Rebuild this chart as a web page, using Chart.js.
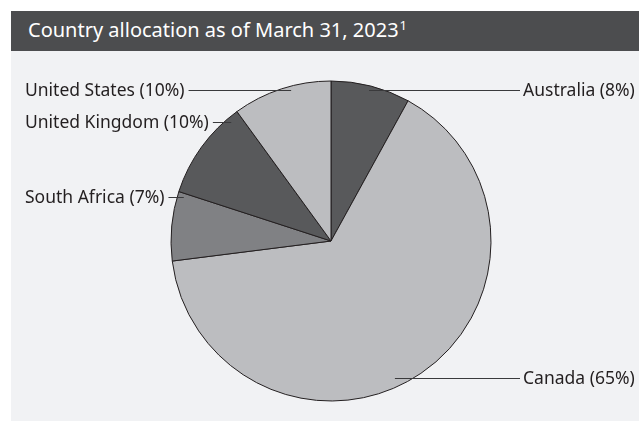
<!DOCTYPE html>
<html>
<head>
<meta charset="utf-8">
<script src="https://cdn.jsdelivr.net/npm/chart.js@4"></script>
<style>
  html, body { margin: 0; padding: 0; background: #fff; }
  body { width: 639px; height: 421px; position: relative; overflow: hidden; font-family: "Noto Sans", sans-serif; }
  #head { position: absolute; left: 11px; top: 11px; width: 628px; height: 40px; background: #4c4d4f; }
  #head span { position: absolute; left: 17px; top: 5px; color: #fff; font-size: 20px; line-height: 28px; white-space: nowrap; }
  #head sup { font-size: 13px; vertical-align: 7px; line-height: 0; margin-left: 1px; }
  #panel { position: absolute; left: 11px; top: 51px; width: 628px; height: 370px; background: #f1f2f4; }
  #wrap { position: absolute; left: 0; top: 0; width: 639px; height: 421px; }
</style>
</head>
<body>
<div id="head"><span>Country allocation as of March 31, 2023<sup>1</sup></span></div>
<div id="panel"></div>
<div id="wrap"><canvas id="chart_area"></canvas></div>
<script>
// data, clockwise from 12 o'clock
const countries = ['Australia', 'Canada', 'South Africa', 'United Kingdom', 'United States'];
const shares = [8, 65, 7, 10, 10];
const sliceColors = ['#58595b', '#bcbdc0', '#808184', '#58595b', '#bcbdc0'];

// where each leader line touches the pie (angle clockwise from top, share of radius) and its side
const leaders = [
  { ang: 14.1, r: 0.975, side: 'right' },
  { ang: 155, r: 0.945, side: 'right' },
  { ang: 286.6, r: 0.96, side: 'left' },
  { ang: 320, r: 0.97, side: 'left' },
  { ang: 345.2, r: 0.975, side: 'left' }
];

const leaderLabels = {
  id: 'leaderLabels',
  afterDraw(chart) {
    const c = chart.ctx;
    const arc0 = chart.getDatasetMeta(0).data[0];
    const cx = arc0.x, cy = arc0.y, R = arc0.outerRadius;
    c.save();
    c.font = '17.5px "Noto Sans", sans-serif';
    c.textBaseline = 'middle';
    countries.forEach(function(name, i) {
      const l = leaders[i];
      const a = l.ang * Math.PI / 180;
      const ax = cx + Math.sin(a) * R * l.r;
      const ay = Math.round(cy - Math.cos(a) * R * l.r) + 0.5;
      const txt = name + ' (' + shares[i] + '%)';
      const w = c.measureText(txt).width;
      let x1, tx;
      if (l.side === 'right') {
        tx = 523;
        x1 = tx - 3;
      } else {
        tx = 25;
        x1 = tx + w + 4;
      }
      c.strokeStyle = '#3a3a3c';
      c.lineWidth = 1;
      c.beginPath();
      c.moveTo(ax, ay);
      c.lineTo(x1, ay);
      c.stroke();
      c.fillStyle = '#231f20';
      c.textAlign = 'left';
      c.fillText(txt, tx, ay + 1);
    });
    c.restore();
  }
};

chart = new Chart(document.getElementById('chart_area').getContext('2d'), {
  type: 'pie',
  data: {
    labels: countries,
    datasets: [{
      data: shares,
      backgroundColor: sliceColors,
      borderColor: '#231f20',
      borderWidth: 1,
      hoverBorderWidth: 1,
      hoverOffset: 0
    }]
  },
  options: {
    responsive: true,
    maintainAspectRatio: false,
    animation: false,
    events: [],
    layout: {
      padding: { left: 170.5, right: 147.5, top: 80.5, bottom: 19.5 }
    },
    plugins: {
      legend: { display: false },
      tooltip: { enabled: false }
    }
  },
  plugins: [leaderLabels]
});
</script>
</body>
</html>
